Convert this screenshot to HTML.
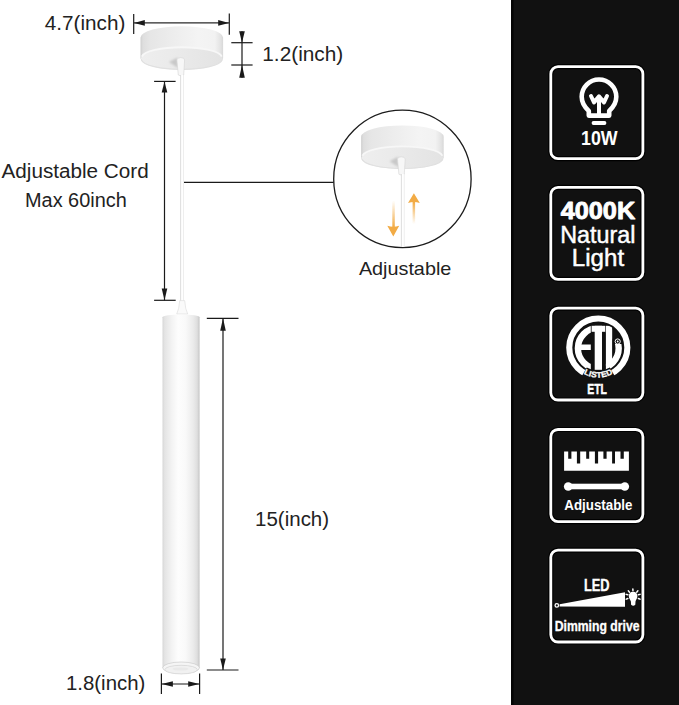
<!DOCTYPE html>
<html><head><meta charset="utf-8">
<style>
html,body{margin:0;padding:0;background:#fff;}
body{width:679px;height:705px;overflow:hidden;}
svg{display:block;}
.t{font-family:"Liberation Sans",sans-serif;fill:#222;}
.w{font-family:"Liberation Sans",sans-serif;fill:#fff;}
</style></head><body>
<svg width="679" height="705" viewBox="0 0 679 705">
<defs>
  <linearGradient id="tube" x1="0" x2="1" y1="0" y2="0">
    <stop offset="0" stop-color="#d6d6d6"/>
    <stop offset="0.06" stop-color="#e4e4e4"/>
    <stop offset="0.25" stop-color="#f3f3f3"/>
    <stop offset="0.42" stop-color="#fdfdfd"/>
    <stop offset="0.62" stop-color="#f9f9f9"/>
    <stop offset="0.82" stop-color="#ebebeb"/>
    <stop offset="0.93" stop-color="#dedede"/>
    <stop offset="0.975" stop-color="#cccccc"/>
    <stop offset="1" stop-color="#d9d9d9"/>
  </linearGradient>
  <linearGradient id="side" x1="0" x2="1" y1="0" y2="0">
    <stop offset="0" stop-color="#cfcfcf"/>
    <stop offset="0.03" stop-color="#dedede"/>
    <stop offset="0.12" stop-color="#e6e6e6"/>
    <stop offset="0.4" stop-color="#ededed"/>
    <stop offset="0.7" stop-color="#f4f4f4"/>
    <stop offset="0.9" stop-color="#f2f2f2"/>
    <stop offset="0.97" stop-color="#e3e3e3"/>
    <stop offset="1" stop-color="#d8d8d8"/>
  </linearGradient>
  <linearGradient id="bot" x1="0" x2="1" y1="0" y2="0">
    <stop offset="0" stop-color="#eeeeee"/>
    <stop offset="0.45" stop-color="#eaeaea"/>
    <stop offset="1" stop-color="#e3e3e3"/>
  </linearGradient>
  <linearGradient id="odown" x1="0" x2="0" y1="0" y2="1">
    <stop offset="0" stop-color="#f2ab44" stop-opacity="0"/>
    <stop offset="1" stop-color="#f2ab44" stop-opacity="1"/>
  </linearGradient>
  <linearGradient id="oup" x1="0" x2="0" y1="0" y2="1">
    <stop offset="0" stop-color="#f2ab44" stop-opacity="1"/>
    <stop offset="1" stop-color="#f2ab44" stop-opacity="0"/>
  </linearGradient>
  <clipPath id="cc"><circle cx="402.4" cy="178.9" r="68"/></clipPath>
  <filter id="blr" x="-50%" y="-50%" width="200%" height="200%"><feGaussianBlur stdDeviation="1.2"/></filter>

</defs>

<!-- right dark panel -->
<rect x="511" y="0" width="168" height="705" fill="#111111"/>
<rect x="511" y="0" width="2.5" height="705" fill="#050505"/>

<!-- lamp -->
<g>
    <path d="M140.5 37.5 A41.3 11.2 0 0 1 223.1 37.5 L223.1 58.3 A41.3 11.5 0 0 1 140.5 58.3 Z" fill="url(#side)"/>
    <ellipse cx="181.8" cy="58.3" rx="40.8" ry="11.3" fill="url(#bot)"/>
    <path d="M141.8 56.6 A40.2 10.4 0 0 1 221.8 56.6" fill="none" stroke="#f7f7f7" stroke-width="1.8"/>
    <path d="M141.4 59.8 A40.5 10.2 0 0 0 222.2 59.8" fill="none" stroke="#e0e0e0" stroke-width="1.2"/>
    <path d="M169 62 L177.5 57.5 L178 68 Z" fill="#c8c8c8" filter="url(#blr)"/>
    <path d="M176.9 60 Q177 57.6 180.7 57.6 Q184.6 57.6 184.6 60 L183.7 75 Q181 77 178.3 75 Z" fill="#f7f7f7" stroke="#d4d4d4" stroke-width="0.6"/>
</g>
<rect x="180.6" y="75" width="2.9" height="227" fill="#fff"/>
<rect x="180.3" y="75" width="0.8" height="227" fill="#d4d4d4"/>
<rect x="183.2" y="75" width="0.8" height="227" fill="#eaeaea"/>
<path d="M179.7 300.6 L184.7 300.6 Q185.3 309.5 187.7 314 L176.7 314 Q179.1 309.5 179.7 300.6 Z" fill="#fafafa" stroke="#d6d6d6" stroke-width="0.55"/>
<path d="M162.5 317.2 A18.65 2.8 0 0 1 199.8 317.2 L199.8 668 L162.5 668 Z" fill="url(#tube)"/>
<ellipse cx="181.1" cy="667.8" rx="18.4" ry="5.8" fill="#f5f5f5" stroke="#cccccc" stroke-width="0.7"/>
<ellipse cx="181.1" cy="669.6" rx="16.2" ry="4.3" fill="#f1f1f1" stroke="#d2d2d2" stroke-width="0.7"/>
<ellipse cx="180.5" cy="669" rx="8" ry="1.6" fill="#e9e9e9"/>

<!-- circle inset -->
<circle cx="402.4" cy="178.9" r="68.7" fill="#fff" stroke="#1c1c1c" stroke-width="1.3"/>
<g clip-path="url(#cc)">
  <g transform="translate(220.6 99.2)">
    <path d="M140.5 37.5 A41.3 11.2 0 0 1 223.1 37.5 L223.1 58.3 A41.3 11.5 0 0 1 140.5 58.3 Z" fill="url(#side)"/>
    <ellipse cx="181.8" cy="58.3" rx="40.8" ry="11.3" fill="url(#bot)"/>
    <path d="M141.8 56.6 A40.2 10.4 0 0 1 221.8 56.6" fill="none" stroke="#f7f7f7" stroke-width="1.8"/>
    <path d="M141.4 59.8 A40.5 10.2 0 0 0 222.2 59.8" fill="none" stroke="#e0e0e0" stroke-width="1.2"/>
    <path d="M169 62 L177.5 57.5 L178 68 Z" fill="#c8c8c8" filter="url(#blr)"/>
    <path d="M176.9 60 Q177 57.6 180.7 57.6 Q184.6 57.6 184.6 60 L183.7 75 Q181 77 178.3 75 Z" fill="#f7f7f7" stroke="#d4d4d4" stroke-width="0.6"/>
</g>
  <rect x="401.2" y="174" width="2.9" height="80" fill="#fff"/>
  <rect x="400.9" y="174" width="0.8" height="80" fill="#d4d4d4"/>
  <rect x="403.8" y="174" width="0.8" height="80" fill="#eaeaea"/>
</g>
<!-- orange arrows -->
<filter id="ob" x="-50%" y="-20%" width="200%" height="140%"><feGaussianBlur stdDeviation="0.35"/></filter>
<g filter="url(#ob)">
<rect x="392.3" y="200.6" width="2.5" height="26.5" fill="url(#odown)"/>
<path d="M387.3 225.8 Q393.3 227.6 399.2 225.8 L393.3 236.5 Z" fill="#f2ab44"/>
<rect x="412.6" y="202" width="2.5" height="22" fill="url(#oup)"/>
<path d="M408 203 Q413.9 201.2 419.8 203 L413.9 193.2 Z" fill="#f2ab44"/>
</g>

<!-- dimension lines -->
<g stroke="#1a1a1a" stroke-width="1.2" fill="none">
  <line x1="133.7" y1="14" x2="133.7" y2="34"/>
  <line x1="229.3" y1="13.5" x2="229.3" y2="34.7"/>
  <line x1="134" y1="22.9" x2="229" y2="22.9" stroke="#2a2a2a" stroke-width="1.3"/>
  <line x1="242" y1="31.3" x2="242" y2="77.7"/>
  <line x1="231.3" y1="42.7" x2="252.6" y2="42.7"/>
  <line x1="231.3" y1="65" x2="252.6" y2="65"/>
  <line x1="164.5" y1="81.4" x2="164.5" y2="300.3"/>
  <line x1="154.1" y1="81.4" x2="175.6" y2="81.4"/>
  <line x1="154.1" y1="300.3" x2="175.7" y2="300.3"/>
  <line x1="223" y1="318.3" x2="223" y2="670"/>
  <line x1="206.8" y1="318.3" x2="238.5" y2="318.3"/>
  <line x1="206.8" y1="670" x2="238.5" y2="670"/>
  <line x1="161.4" y1="673.4" x2="161.4" y2="694"/>
  <line x1="199.6" y1="673.4" x2="199.6" y2="694"/>
  <line x1="161.5" y1="684" x2="199.5" y2="684"/>
  <line x1="184" y1="182.4" x2="333.7" y2="182.4" stroke-width="1.3"/>
</g>
<g fill="#1a1a1a">
  <path d="M134 22.9 L144.8 20.1 L144.8 25.7 Z"/>
  <path d="M229 22.9 L218.2 20.1 L218.2 25.7 Z"/>
  <path d="M242 42.7 L239.2 31.3 L244.8 31.3 Z"/>
  <path d="M242 65 L239.2 77.7 L244.8 77.7 Z"/>
  <path d="M164.5 81.4 L161.7 92.4 L167.3 92.4 Z"/>
  <path d="M164.5 300.3 L161.7 288.6 L167.3 288.6 Z"/>
  <path d="M223 318.3 L220.2 330.8 L225.8 330.8 Z"/>
  <path d="M223 670 L220.2 658.4 L225.8 658.4 Z"/>
  <path d="M161.6 684 L172.9 681.2 L172.9 686.8 Z"/>
  <path d="M199.4 684 L188.2 681.2 L188.2 686.8 Z"/>
</g>

<!-- left labels -->
<text class="t" x="44.8" y="30" font-size="19.5" textLength="80.5" lengthAdjust="spacingAndGlyphs">4.7(inch)</text>
<text class="t" x="262.3" y="61.2" font-size="19.5" textLength="81" lengthAdjust="spacingAndGlyphs">1.2(inch)</text>
<text class="t" x="1.5" y="178" font-size="20" textLength="147.2" lengthAdjust="spacingAndGlyphs">Adjustable Cord</text>
<text class="t" x="25" y="206.6" font-size="20" textLength="101.7" lengthAdjust="spacingAndGlyphs">Max 60inch</text>
<text class="t" x="358.9" y="275.1" font-size="18.5" textLength="92.4" lengthAdjust="spacingAndGlyphs">Adjustable</text>
<text class="t" x="255.1" y="525.8" font-size="19.6" textLength="74" lengthAdjust="spacingAndGlyphs">15(inch)</text>
<text class="t" x="66" y="690" font-size="19.5" textLength="79.3" lengthAdjust="spacingAndGlyphs">1.8(inch)</text>

<!-- icon boxes -->
<g id="boxes" fill="none" stroke="#000" stroke-width="5.2">
  <rect x="550.8" y="66.7" width="92.1" height="91.95" rx="7.2"/>
  <rect x="550.8" y="187.4" width="92.1" height="91.95" rx="7.2"/>
  <rect x="550.8" y="308.2" width="92.1" height="91.8" rx="7.2"/>
  <rect x="550.8" y="429.5" width="92.1" height="92.05" rx="7.2"/>
  <rect x="550.8" y="550.1" width="92.1" height="91.9" rx="7.2"/>
</g>
<g fill="none" stroke="#fff" stroke-width="2.8">
  <rect x="550.8" y="66.7" width="92.1" height="91.95" rx="7.2"/>
  <rect x="550.8" y="187.4" width="92.1" height="91.95" rx="7.2"/>
  <rect x="550.8" y="308.2" width="92.1" height="91.8" rx="7.2"/>
  <rect x="550.8" y="429.5" width="92.1" height="92.05" rx="7.2"/>
  <rect x="550.8" y="550.1" width="92.1" height="91.9" rx="7.2"/>
</g>

<!-- bulb icon -->
<g fill="none" stroke="#fff" stroke-width="4.6" stroke-linecap="round" stroke-linejoin="round">
  <path d="M588.8 115.6 L588.8 111 Q581.7 104.5 581.7 96.8 A17.3 17.3 0 0 1 616.3 96.8 Q616.3 104.5 609.2 111 L609.2 115.6 Z"/>
  <path d="M591 96 L594 102.4 L599 96.4 L604 102.4 L607 96" stroke-width="4"/>
  <path d="M599 98 L599 114" stroke-width="4"/>
  <path d="M593.5 123 L604.5 123" stroke-width="3.8"/>
</g>
<text class="w" x="581" y="145" font-size="20.6" font-weight="bold" textLength="36.6" lengthAdjust="spacingAndGlyphs">10W</text>

<!-- 4000K -->
<text class="w" x="560.7" y="218.6" font-size="24" font-weight="bold" stroke="#fff" stroke-width="0.9" stroke-linejoin="round" textLength="74.5" lengthAdjust="spacingAndGlyphs">4000K</text>
<text class="w" x="560.2" y="243.2" font-size="23" stroke="#fff" stroke-width="0.45" textLength="75.2" lengthAdjust="spacingAndGlyphs">Natural</text>
<text class="w" x="571.8" y="265.9" font-size="23" stroke="#fff" stroke-width="0.45" textLength="52.3" lengthAdjust="spacingAndGlyphs">Light</text>

<!-- ETL -->
<defs>
  <clipPath id="etlin"><circle cx="598.3" cy="348.3" r="25"/></clipPath>
</defs>
<g>
  <g clip-path="url(#etlin)">
    <circle cx="598.3" cy="348.3" r="20.4" fill="none" stroke="#fff" stroke-width="6.4"/>
    <rect x="570" y="315" width="60" height="10.8" fill="#111111"/>
    <rect x="612.1" y="320" width="16" height="24" fill="#111111"/>
    <rect x="590.8" y="324" width="15.1" height="52" fill="#111111"/>
    <rect x="580" y="344.5" width="10.8" height="5.5" fill="#fff"/>
    <rect x="591.6" y="325.8" width="13.6" height="6" fill="#fff"/>
    <rect x="594.7" y="325.8" width="7.3" height="44" fill="#fff"/>
    <rect x="605.9" y="325.8" width="6.2" height="40" fill="#fff"/>
  </g>
  <circle cx="598.3" cy="347.6" r="29.05" fill="none" stroke="#fff" stroke-width="6.1"/>
  <path d="M581.30 377.04 A34 34 0 0 0 615.30 377.04 L609.80 367.52 A23.0 23.0 0 0 1 586.80 367.52 Z" fill="#111111"/>
  <text class="w" transform="translate(585.88 374.91) rotate(24.5) scale(1.055 1)" font-size="8" font-weight="bold" stroke="#fff" stroke-width="0.3" text-anchor="middle">L</text>
  <text class="w" transform="translate(589.49 376.28) rotate(17.1) scale(1.055 1)" font-size="8" font-weight="bold" stroke="#fff" stroke-width="0.3" text-anchor="middle">I</text>
  <text class="w" transform="translate(593.49 377.21) rotate(9.2) scale(1.055 1)" font-size="8" font-weight="bold" stroke="#fff" stroke-width="0.3" text-anchor="middle">S</text>
  <text class="w" transform="translate(599.02 377.59) rotate(-1.4) scale(1.055 1)" font-size="8" font-weight="bold" stroke="#fff" stroke-width="0.3" text-anchor="middle">T</text>
  <text class="w" transform="translate(604.54 376.94) rotate(-12.0) scale(1.055 1)" font-size="8" font-weight="bold" stroke="#fff" stroke-width="0.3" text-anchor="middle">E</text>
  <text class="w" transform="translate(610.28 375.11) rotate(-23.5) scale(1.055 1)" font-size="8" font-weight="bold" stroke="#fff" stroke-width="0.3" text-anchor="middle">D</text>
  <circle cx="617.7" cy="341.5" r="2.6" fill="none" stroke="#fff" stroke-width="1"/>
  <circle cx="617.7" cy="341.5" r="0.9" fill="#fff"/>
</g>
<text class="w" x="587.3" y="393.9" font-size="14.3" font-weight="bold" stroke="#fff" stroke-width="0.5" textLength="19.6" lengthAdjust="spacingAndGlyphs">ETL</text>

<!-- ruler -->
<path fill="#fff" d="M564.1 451.6 H568.2 V458.7 H571.4 V451.6 H576.9 V463.6 H580.2 V451.6 H586.2 V458.7 H589.2 V451.6 H594.9 V463.6 H598.1 V451.6 H603.4 V458.7 H606.6 V451.6 H612.1 V463.6 H615 V451.6 H620.5 V458.7 H623.8 V451.6 H628.9 V470.7 H564.1 Z"/>
<g fill="#fff">
  <circle cx="568.2" cy="486.5" r="4.3"/>
  <circle cx="624.8" cy="486.5" r="4.3"/>
  <rect x="568" y="483.7" width="57" height="5.6"/>
</g>
<text class="w" x="564.3" y="510" font-size="14.5" font-weight="bold" textLength="68.1" lengthAdjust="spacingAndGlyphs">Adjustable</text>

<!-- dimming -->
<text class="w" x="584" y="590.6" font-size="15.6" font-weight="bold" stroke="#fff" stroke-width="0.35" textLength="25.6" lengthAdjust="spacingAndGlyphs">LED</text>
<circle cx="556.8" cy="605.4" r="1.75" fill="none" stroke="#fff" stroke-width="1.3"/>
<path d="M559.6 604.3 L625 592.3 L625 606.7 L559.6 606.5 Z" fill="#fff"/>
<path d="M633.1 591.7 C636 591.7 637.4 593.8 637.4 596.3 C637.4 598.4 635.9 599.6 635.5 601.5 L635.3 604.8 Q633.2 606.6 631.1 604.8 L630.9 601.5 C630.4 599.6 628.8 598.4 628.8 596.3 C628.8 593.8 630.2 591.7 633.1 591.7 Z" fill="#fff"/>
<path d="M632.93 590.80 L632.87 589.00 M629.49 592.18 L628.31 590.82 M636.71 592.18 L637.89 590.82 M627.87 594.84 L626.13 594.36 M627.83 598.46 L626.17 599.14 M638.33 594.84 L640.07 594.36 M638.37 598.46 L640.03 599.14" stroke="#fff" stroke-width="1.5" stroke-linecap="round" fill="none"/>
<text class="w" x="554.7" y="631.4" font-size="14.2" font-weight="bold" stroke="#fff" stroke-width="0.3" textLength="84.8" lengthAdjust="spacingAndGlyphs">Dimming drive</text>
</svg>
</body></html>
